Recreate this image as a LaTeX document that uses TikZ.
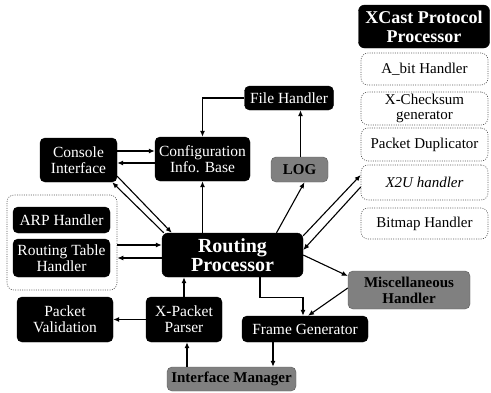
\documentclass[tikz,border=0pt]{standalone}
\usepackage{fontspec}
\setmainfont{Liberation Serif}
\usetikzlibrary{arrows.meta}
\begin{document}
\begin{tikzpicture}[x=1pt,y=-1pt,
  blk/.style={draw=black, fill=black, text=white, rounded corners=5pt, inner sep=0pt,
    align=center, font=\fontsize{15.5}{16}\selectfont},
  gry/.style={draw=black!65, fill=black!50, text=black, rounded corners=5pt, inner sep=0pt,
    align=center, font=\fontsize{15}{15}\selectfont\bfseries},
  sub/.style={draw=black!65, line width=0.6pt, dash pattern=on 1pt off 1.3pt, rounded corners=7pt,
    inner sep=0pt, align=center, minimum width=127pt, font=\fontsize{15}{15}\selectfont},
  arr/.style={-{Latex[length=6pt,width=5pt]}, line width=1.1pt},
]
\useasboundingbox[fill=white] (0,0) rectangle (491,392);

% left-hand handlers and their frame
\node[sub, minimum width=110pt, minimum height=95pt] (group) at (62,242.5) {};
\node[blk, minimum width=97pt, minimum height=26pt] (arp) at (61.5,220) {ARP Handler};
\node[blk, minimum width=97pt, minimum height=38pt] (rth) at (61.5,258) {Routing Table\\Handler};

% management side
\node[blk, minimum width=77pt, minimum height=44pt] (console) at (78.5,160) {Console\\Interface};
\node[blk, minimum width=95pt, minimum height=44pt] (config) at (202.5,159) {Configuration\\Info. Base};
\node[blk, minimum width=89pt, minimum height=24pt] (file) at (289,98) {File Handler};
\node[gry, minimum width=57pt, minimum height=25pt] (log) at (299.5,169.5) {LOG};

% core
\node[blk, minimum width=141pt, minimum height=44pt, rounded corners=6pt,
  font=\fontsize{20}{18.5}\selectfont\bfseries] (rp) at (232.5,255) {Routing\\Processor};

% XCast protocol processor and its parts
\node[blk, minimum width=131pt, minimum height=43pt, rounded corners=6pt,
  font=\fontsize{18}{19}\selectfont\bfseries] (xcast) at (424,26.5) {XCast Protocol\\Processor};
\node[sub, minimum height=32pt] (abit) at (424.5,69) {A\_bit Handler};
\node[sub, minimum height=33pt] (xcheck) at (424.5,108.5) {X-Checksum\\generator};
\node[sub, minimum height=33pt] (dup) at (424.5,144.5) {Packet Duplicator};
\node[sub, minimum height=35pt] (x2u) at (424.5,182.5) {\itshape X2U handler};
\node[sub, minimum height=31pt] (bitmap) at (424.5,223.5) {Bitmap Handler};

% packet path
\node[blk, minimum width=96pt, minimum height=45pt] (pv) at (65,319.5) {Packet\\Validation};
\node[blk, minimum width=76pt, minimum height=45pt] (xpp) at (184,319.5) {X-Packet\\Parser};
\node[blk, minimum width=126pt, minimum height=26pt] (fg) at (305,329) {Frame Generator};
\node[gry, minimum width=122pt, minimum height=38pt, font=\fontsize{15}{16}\selectfont\bfseries] (misc) at (409,290) {Miscellaneous\\Handler};
\node[gry, minimum width=129pt, minimum height=24pt] (im) at (231.5,379) {Interface Manager};

% file handler / log / configuration
\draw[arr] (file.west) -| (config.north);
\draw[arr] ([xshift=1pt]log.north) -- ([xshift=1pt]log.north |- file.south);

% console <-> configuration
\coordinate (k1) at ([yshift=8pt]config.west);
\coordinate (k2) at ([yshift=-4pt]config.west);
\draw[arr] (k1 -| console.east) -- (k1);
\draw[arr] (k2) -- (k2 -| console.east);

% routing processor -> configuration
\draw[arr] (rp.north -| config.south) -- (config.south);

% console <-> routing processor
\draw[arr] ([xshift=2pt]rp.north west) -- ([xshift=-5pt]console.south east);
\draw[arr] ([yshift=6pt]console.south east) -- ([xshift=10pt]rp.north west);

% routing table handler <-> routing processor
\coordinate (r1) at ([yshift=10pt]rp.west);
\coordinate (r2) at ([yshift=-3pt]rp.west);
\draw[arr] (r1 -| group.east) -- (r1);
\draw[arr] (r2) -- (r2 -| group.east);

% routing processor -> log
\draw[arr] ([xshift=44pt]rp.north) -- ([xshift=5pt]log.south);

% routing processor <-> XCast parts
\draw[arr] ([yshift=-3pt]rp.north east) -- ([yshift=7.5pt]x2u.west);
\draw[arr] ([yshift=-4.5pt]x2u.west) -- ([yshift=5pt]rp.east);

% packet parsing
\draw[arr] (xpp.north) -- (xpp.north |- rp.south);
\draw[arr] (xpp.west) -- (pv.east);
\coordinate (p1) at ([xshift=3pt]xpp.south);
\draw[arr] (p1 |- im.north) -- (p1);

% frame generation
\coordinate (f1) at ([xshift=27.5pt]rp.south);
\draw[arr] (f1) -- ++(0,20) -| ([xshift=-2pt]fg.north);
\draw[arr] (rp.east) -- ([yshift=14pt]misc.west);
\draw[arr] ([yshift=2pt]misc.west) -- ([xshift=3pt]fg.north);
\coordinate (g1) at ([xshift=-32pt]fg.south);
\draw[arr] (g1) -- (g1 |- im.north);
\end{tikzpicture}
\end{document}
